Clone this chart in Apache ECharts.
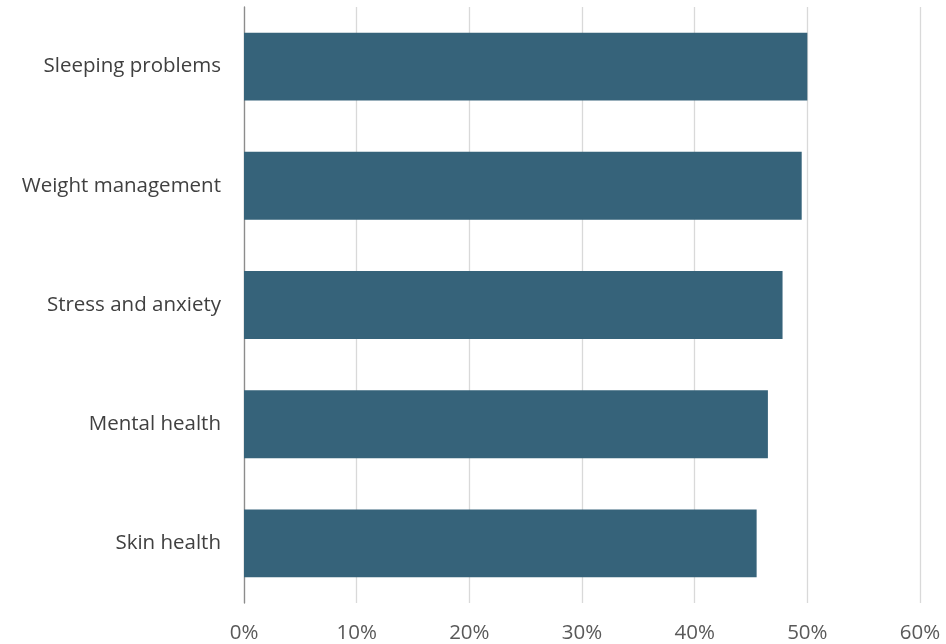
<!DOCTYPE html>
<html><head><meta charset="utf-8">
<script src="https://cdn.jsdelivr.net/npm/echarts@6/dist/echarts.min.js"></script>
<style>html,body{margin:0;padding:0;background:#fff}#c{width:946px;height:644px}</style>
</head><body><div id="c"></div>
<script>
const categories = ["Skin health", "Mental health", "Stress and anxiety", "Weight management", "Sleeping problems"];
const values = [45.5, 46.5, 47.8, 49.5, 50.0];
const xTicks = [0, 10, 20, 30, 40, 50, 60];

const chart = echarts.init(document.getElementById('c'));
chart.setOption({
  animation: false,
  grid: { left: 244, right: 26, top: 7, bottom: 40.5, containLabel: false },
  xAxis: {
    type: 'value', min: xTicks[0], max: xTicks[xTicks.length - 1], interval: 10,
    axisLine: { show: false }, axisTick: { show: false },
    splitLine: { lineStyle: { color: '#d9d9d9', width: 1.3 } },
    axisLabel: { formatter: '{value}%', color: '#595959', fontSize: 20.5, fontFamily: 'Open Sans', margin: 20 }
  },
  yAxis: {
    type: 'category', data: categories,
    axisLine: { show: true, lineStyle: { color: '#8c8c8c', width: 1.3 } },
    axisTick: { show: false },
    axisLabel: { color: '#404040', fontSize: 20.5, fontFamily: 'Open Sans', margin: 23 }
  },
  series: [{
    type: 'bar', data: values, barCategoryGap: '43%',
    itemStyle: { color: '#36637A' }
  }]
});
</script></body></html>
